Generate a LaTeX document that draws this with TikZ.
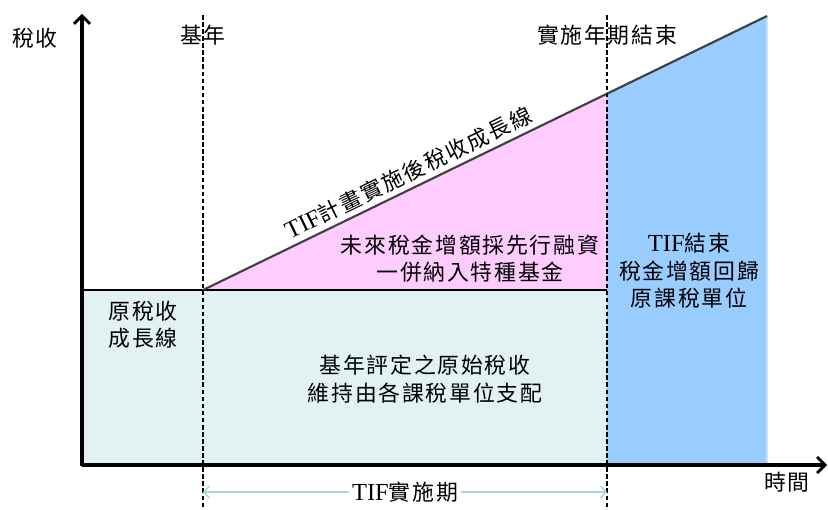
\documentclass[tikz,border=0pt]{standalone}
\usepackage{fontspec}
\setmainfont{Liberation Serif}
\newfontfamily\cjk[LetterSpace=8]{Noto Sans CJK TC}
\newfontfamily\latf[Scale=1.12]{Liberation Serif}
\usetikzlibrary{arrows.meta}
\definecolor{cyanfill}{HTML}{E2F2F2}
\definecolor{pinkfill}{HTML}{FFCCFF}
\definecolor{bluefill}{HTML}{99CCFF}
\definecolor{periodarrow}{HTML}{A8D8DA}
\definecolor{slopeline}{HTML}{404040}
\definecolor{baseline}{HTML}{606060}
\tikzset{
  lbl/.style={font=\cjk\fontsize{16.4}{20.5}\selectfont, align=center, inner sep=1pt, text=black},
  axis/.style={line width=2.3pt, -{Straight Barb[length=6pt,width=12pt,line width=2pt]}},
  guide/.style={line width=1.1pt, dash pattern=on 3.5pt off 1.8pt},
}
\begin{document}
\begin{tikzpicture}[x=0.75pt,y=-0.75pt]
\useasboundingbox (0,0) rectangle (828,510);
% key coordinates
\coordinate (O) at (82,465);
\coordinate (Ytop) at (82,14);
\coordinate (Xend) at (827,465);
\coordinate (b0) at (82,290);
\coordinate (b1) at (203,290);
\coordinate (b2) at (607,290);
\coordinate (t2) at (607,94);
\coordinate (t3) at (767,16);
\coordinate (u3) at (767,465);
\coordinate (u2) at (607,465);
\coordinate (d1top) at (203,15);
\coordinate (d1bot) at (203,510);
\coordinate (d2top) at (607,15);
\coordinate (d2bot) at (607,510);
\coordinate (pa) at (203,492);
\coordinate (pb) at (607,492);
% fills
\fill[cyanfill] (b0) rectangle (u2);
\fill[pinkfill] (b1) -- (t2) -- (b2) -- cycle;
\fill[bluefill] (t2) -- (t3) -- (u3) -- (u2) -- cycle;
\draw[cyanfill!60!bluefill, line width=0.8pt] (t3) -- (u3);
% lines
\draw[baseline, line width=1.5pt] (b0) -- (b2);
\draw[slopeline, line width=1.6pt] (b1) -- (t3);
\draw[guide] (d1top) -- (d1bot);
\draw[guide] (d2top) -- (d2bot);
\draw[axis, line cap=round] (O) -- (Ytop);
\draw[axis] (O) -- (Xend);
% period arrow
\draw[periodarrow, line width=1.1pt, {Straight Barb[length=4pt,width=9pt]}-{Straight Barb[length=4pt,width=9pt]}] (pa) -- (pb)
  node[midway, fill=white, lbl, inner sep=2pt] (period) {{\latf TIF}實施期};
% labels
\node[lbl] (ylab) at (35,38) {稅收};
\node[lbl] (xlab) at (787,482) {時間};
\node[lbl] (baseyr) at (203,35) {基年};
\node[lbl] (endyr) at (607,35) {實施年期結束};
\node[lbl] (orig) at (143,325) {原稅收\\成長線};
\node[lbl] (keep) at (425,379) {基年評定之原始稅收\\維持由各課稅單位支配};
\node[lbl] (future) at (470,259) {未來稅金增額採先行融資\\一併納入特種基金};
\node[lbl] (tifend) at (689,271) {{\latf TIF}結束\\稅金增額回歸\\原課稅單位};
\path (b1) -- (t3) node[pos=0.376, sloped, above=3pt, lbl] (growth) {{\latf TIF}計畫實施後稅收成長線};
\end{tikzpicture}
\end{document}
